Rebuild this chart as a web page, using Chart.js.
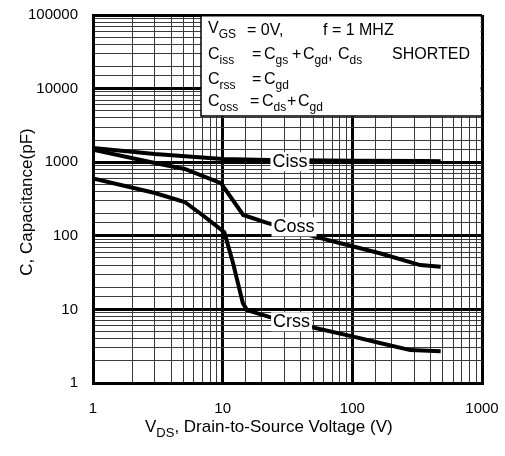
<!DOCTYPE html>
<html>
<head>
<meta charset="utf-8">
<script src="https://cdn.jsdelivr.net/npm/chart.js@4/dist/chart.umd.min.js"></script>
<style>
  html, body { margin: 0; padding: 0; background: #fff; }
  #wrap { width: 505px; height: 456px; }
</style>
</head>
<body>
<div id="wrap"><canvas id="capChart" width="505" height="456"></canvas></div>
<script>
// capacitance vs drain-source voltage
const cissV = [1, 3, 10, 23, 100, 375, 480];
const cissC = [1560, 1290, 1105, 1070, 1050, 1040, 1030];

const cossV = [1, 3, 5.1, 9.7, 14.4, 22, 53, 100, 163, 334, 480];
const cossC = [1480, 975, 810, 520, 192, 150, 96, 72, 58, 40, 38];

const crssV = [1, 3, 5.1, 7.3, 10.3, 12, 14.3, 15.4, 24.5, 47, 100, 163, 280, 480];
const crssC = [600, 381, 288, 180, 112, 43, 12.2, 9.8, 7.6, 5.8, 4.3, 3.5, 2.8, 2.7];

// curve names and where they sit on the plot
const curveNames = ["Ciss", "Coss", "Crss"];
const curveLabelV = [33, 35.5, 34];
const curveLabelC = [1030, 134, 6.9];

const xTickLabels = [1, 10, 100, 1000];
const yTickLabels = [1, 10, 100, 1000, 10000, 100000];

const FONT = '"Liberation Sans", Arial, sans-serif';

const toPoints = (xs, ys) => xs.map((x, i) => ({ x: x, y: ys[i] }));
const isDecade = (v) => Math.abs(Math.log10(v) - Math.round(Math.log10(v))) < 1e-9;

// text with subscripts; parts = [[text, isSub], ...]
function drawRich(ctx, x, y, parts, size) {
  let cx = x;
  parts.forEach(([txt, sub]) => {
    ctx.font = (sub ? Math.round(size * 0.78) : size) + "px " + FONT;
    ctx.fillText(txt, cx, sub ? y + 5 : y);
    cx += ctx.measureText(txt).width;
  });
  return cx;
}

const annotations = {
  id: "annotations",
  afterDatasetsDraw(chart) {
    const ctx = chart.ctx;
    const xs = chart.scales.x;
    const ys = chart.scales.y;
    const area = chart.chartArea;

    ctx.save();
    // curve name labels with white background
    ctx.font = "18px " + FONT;
    ctx.textBaseline = "middle";
    ctx.textAlign = "center";
    curveNames.forEach((name, i) => {
      const px = xs.getPixelForValue(curveLabelV[i]);
      const py = ys.getPixelForValue(curveLabelC[i]);
      const w = ctx.measureText(name).width;
      ctx.fillStyle = "#fff";
      ctx.fillRect(px - w / 2 - 2, py - 9, w + 4, 19);
      ctx.fillStyle = "#000";
      ctx.fillText(name, px, py + 1);
    });

    // conditions box in the top right
    const bx = 201, by = area.top, bb = 116;
    ctx.fillStyle = "#fff";
    ctx.fillRect(bx, by + 1.5, area.right - 1.5 - bx, bb - by - 1.5);
    ctx.strokeStyle = "#000";
    ctx.lineWidth = 1.5;
    ctx.beginPath();
    ctx.moveTo(bx, by);
    ctx.lineTo(bx, bb);
    ctx.lineTo(area.right, bb);
    ctx.stroke();

    ctx.fillStyle = "#000";
    ctx.textAlign = "left";
    ctx.textBaseline = "alphabetic";
    const s = 16;
    drawRich(ctx, 208, 33, [["V", false], ["GS", true]], s);
    drawRich(ctx, 247, 35, [["= 0V,", false]], s);
    drawRich(ctx, 323, 35, [["f = 1 MHZ", false]], s);

    drawRich(ctx, 208, 59, [["C", false], ["iss", true]], s);
    drawRich(ctx, 252, 59, [["=", false]], s);
    drawRich(ctx, 264, 59, [["C", false], ["gs", true]], s);
    drawRich(ctx, 292, 59, [["+", false]], s);
    drawRich(ctx, 303, 59, [["C", false], ["gd", true], [",", false]], s);
    drawRich(ctx, 338, 59, [["C", false], ["ds", true]], s);
    drawRich(ctx, 392, 59, [["SHORTED", false]], s);

    drawRich(ctx, 208, 84, [["C", false], ["rss", true]], s);
    drawRich(ctx, 252, 84, [["=", false]], s);
    drawRich(ctx, 264, 84, [["C", false], ["gd", true]], s);

    drawRich(ctx, 208, 106, [["C", false], ["oss", true]], s);
    drawRich(ctx, 250, 106, [["=", false]], s);
    drawRich(ctx, 262, 106, [["C", false], ["ds", true]], s);
    drawRich(ctx, 287, 106, [["+", false]], s);
    drawRich(ctx, 298, 106, [["C", false], ["gd", true]], s);

    // axis titles
    drawRich(ctx, 145, 432, [["V", false], ["DS", true], [", Drain-to-Source Voltage (V)", false]], 17);

    ctx.translate(32, 202);
    ctx.rotate(-Math.PI / 2);
    ctx.textAlign = "center";
    ctx.font = "17px " + FONT;
    ctx.fillText("C, Capacitance(pF)", 0, 0);
    ctx.restore();
  }
};

const gridStyle = {
  drawTicks: false,
  color: (c) => (c.tick && isDecade(c.tick.value) ? "#000" : "#3a3a3a"),
  lineWidth: (c) => (c.tick && isDecade(c.tick.value) ? 3 : 1)
};

const lineStyle = {
  borderColor: "#000",
  borderWidth: 4,
  pointRadius: 0,
  tension: 0,
  fill: false
};

// keep tick label overhang from shrinking the plot area
const noOverhang = (scale, size) => {
  scale.paddingTop = 0;
  scale.paddingBottom = 0;
  scale.paddingLeft = 0;
  scale.paddingRight = 0;
  if (scale.isHorizontal()) scale.height = size; else scale.width = size;
};

new Chart(document.getElementById("capChart").getContext("2d"), {
  type: "line",
  data: {
    datasets: [
      Object.assign({ label: "Ciss", data: toPoints(cissV, cissC) }, lineStyle),
      Object.assign({ label: "Coss", data: toPoints(cossV, cossC) }, lineStyle),
      Object.assign({ label: "Crss", data: toPoints(crssV, crssC) }, lineStyle)
    ]
  },
  options: {
    responsive: false,
    animation: false,
    devicePixelRatio: 1,
    layout: { padding: { left: 0, top: 15, right: 23, bottom: 0 } },
    plugins: { legend: { display: false }, tooltip: { enabled: false } },
    scales: {
      x: {
        type: "logarithmic",
        min: 1,
        max: 1000,
        grid: gridStyle,
        border: { display: true, color: "#000", width: 3 },
        ticks: {
          autoSkip: false,
          maxRotation: 0,
          padding: 17,
          color: "#000",
          font: { family: FONT, size: 15 },
          callback: (v) => (xTickLabels.some((t) => Math.abs(t - v) < 1e-6) ? String(Math.round(v)) : "")
        },
        afterFit: (scale) => noOverhang(scale, 73)
      },
      y: {
        type: "logarithmic",
        min: 1,
        max: 100000,
        grid: gridStyle,
        border: { display: true, color: "#000", width: 3 },
        ticks: {
          autoSkip: false,
          padding: 15,
          color: "#000",
          font: { family: FONT, size: 15 },
          callback: (v) => (yTickLabels.some((t) => Math.abs(t - v) < 1e-6) ? String(Math.round(v)) : "")
        },
        afterFit: (scale) => noOverhang(scale, 93)
      }
    }
  },
  plugins: [annotations]
});
</script>
</body>
</html>
